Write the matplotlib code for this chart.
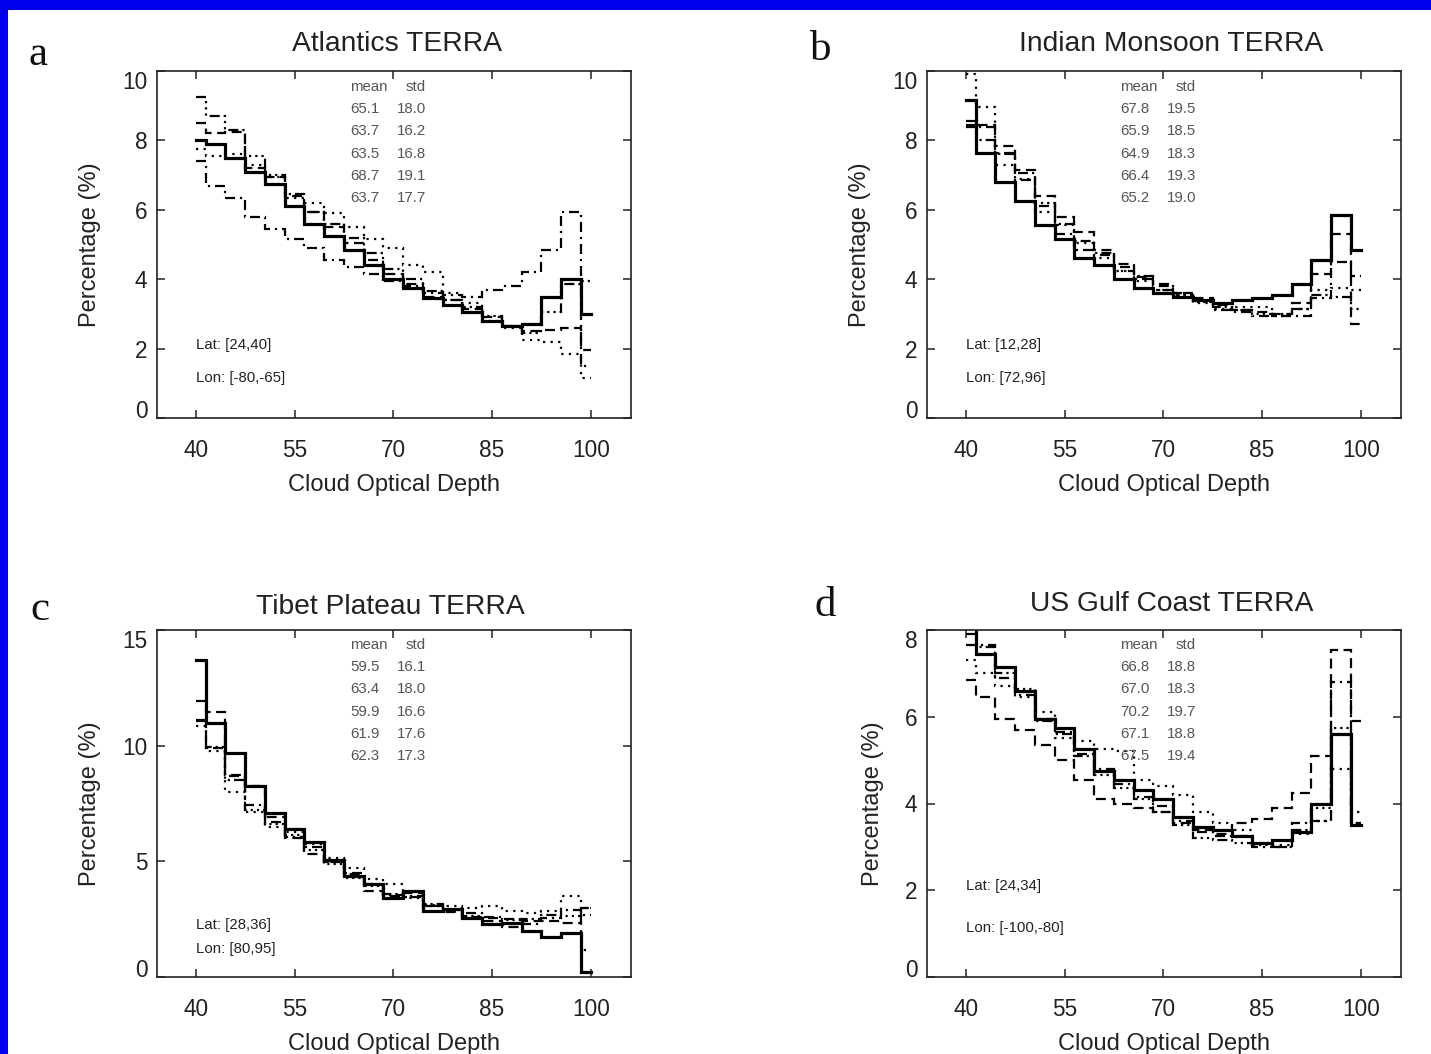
import numpy as np
import matplotlib
matplotlib.use("Agg")
import matplotlib.pyplot as plt
from matplotlib.patches import Rectangle

plt.rcParams['font.family'] = ['Liberation Sans', 'DejaVu Sans']

# Cloud optical depth bin centres (x axis)
cod = [40, 43, 46, 49, 52, 55, 58, 61, 64, 67, 70, 73, 76, 79, 82, 85, 88, 91, 94, 97, 100]
xticks = [40, 55, 70, 85, 100]

# ---- a: Atlantics ----
atl_solid = [8.0, 7.9, 7.5, 7.1, 6.75, 6.1, 5.6, 5.25, 4.85, 4.4, 4.0, 3.75, 3.45, 3.25, 3.05, 2.8, 2.65, 2.7, 3.5, 4.0, 3.0]
atl_dot = [7.75, 7.55, 7.6, 7.3, 6.95, 6.35, 6.2, 5.9, 5.5, 5.15, 4.9, 4.4, 4.2, 3.6, 3.3, 2.8, 2.6, 2.25, 2.2, 1.85, 1.15]
atl_dash = [8.5, 8.2, 8.25, 7.2, 6.95, 6.4, 5.95, 5.5, 5.05, 4.55, 4.15, 3.85, 3.5, 3.4, 3.15, 2.9, 2.65, 2.5, 2.55, 2.6, 1.95]
atl_dashdot = [7.4, 6.7, 6.35, 5.8, 5.45, 5.15, 4.9, 4.55, 4.35, 4.15, 3.95, 3.8, 3.6, 3.55, 3.5, 3.7, 3.8, 4.2, 4.85, 5.95, 1.5]
atl_dash3dot = [9.25, 8.7, 8.3, 7.55, 7.0, 6.45, 5.95, 5.6, 5.2, 4.75, 4.3, 4.0, 3.65, 3.4, 3.2, 2.95, 2.65, 2.45, 3.05, 3.85, 3.95]
atl_mean = ["65.1", "63.7", "63.5", "68.7", "63.7"]
atl_std = ["18.0", "16.2", "16.8", "19.1", "17.7"]

# ---- b: Indian Monsoon ----
ind_solid = [9.15, 7.65, 6.8, 6.25, 5.55, 5.15, 4.6, 4.4, 4.0, 3.75, 3.6, 3.5, 3.4, 3.3, 3.4, 3.45, 3.55, 3.85, 4.55, 5.85, 4.85]
ind_dot = [9.9, 8.95, 7.3, 6.9, 5.95, 5.55, 5.05, 4.6, 4.25, 3.95, 3.7, 3.55, 3.3, 3.15, 3.2, 3.2, 3.0, 3.15, 3.7, 3.75, 3.7]
ind_dash = [8.55, 8.45, 7.85, 7.15, 6.4, 5.8, 5.35, 4.85, 4.45, 4.05, 3.8, 3.6, 3.45, 3.25, 3.1, 3.05, 3.0, 3.3, 4.15, 5.3, 2.7]
ind_dashdot = [8.45, 8.4, 7.65, 6.85, 6.1, 5.3, 4.85, 4.7, 4.25, 4.0, 3.85, 3.6, 3.4, 3.1, 3.05, 2.95, 2.95, 2.95, 3.45, 4.5, 4.1]
ind_dash3dot = [8.4, 8.0, 7.6, 7.05, 6.2, 5.6, 5.1, 4.75, 4.35, 4.1, 3.7, 3.55, 3.35, 3.2, 3.1, 3.0, 2.95, 3.15, 3.55, 3.5, 3.15]
ind_mean = ["67.8", "65.9", "64.9", "66.4", "65.2"]
ind_std = ["19.5", "18.5", "18.3", "19.3", "19.0"]

# ---- c: Tibet Plateau ----
tib_solid = [13.7, 11.0, 9.7, 8.25, 7.1, 6.4, 5.85, 5.05, 4.35, 4.0, 3.4, 3.7, 2.85, 2.95, 2.55, 2.3, 2.35, 2.0, 1.75, 1.9, 0.2]
tib_dot = [10.85, 9.75, 8.0, 7.15, 6.5, 6.25, 5.75, 5.15, 4.7, 4.25, 4.0, 3.4, 3.1, 3.05, 3.0, 3.05, 2.85, 2.75, 2.85, 3.5, 1.15]
tib_dash = [11.95, 11.45, 8.75, 8.25, 6.9, 6.0, 5.3, 4.95, 4.45, 3.7, 3.5, 3.65, 3.05, 2.8, 2.6, 2.4, 2.15, 2.4, 2.4, 2.35, 3.0]
tib_dashdot = [11.05, 9.9, 8.7, 7.45, 6.7, 6.05, 5.6, 4.95, 4.5, 4.0, 3.55, 3.5, 3.05, 2.85, 2.75, 2.6, 2.5, 2.3, 2.55, 2.9, 2.7]
tib_dash3dot = [11.1, 9.95, 8.5, 7.2, 6.6, 6.15, 5.5, 4.9, 4.3, 3.95, 3.6, 3.45, 3.15, 2.9, 2.65, 2.55, 2.45, 2.5, 2.7, 2.65, 3.0]
tib_mean = ["59.5", "63.4", "59.9", "61.9", "62.3"]
tib_std = ["16.1", "18.0", "16.6", "17.6", "17.3"]

# ---- d: US Gulf Coast ----
gulf_solid = [8.1, 7.45, 7.15, 6.6, 5.95, 5.75, 5.25, 4.75, 4.55, 4.3, 4.1, 3.7, 3.45, 3.4, 3.25, 3.1, 3.15, 3.35, 4.0, 5.6, 3.5]
gulf_dot = [7.3, 7.0, 6.7, 6.45, 6.1, 5.5, 5.45, 5.25, 5.2, 4.55, 4.4, 4.2, 3.8, 3.55, 3.4, 3.1, 3.05, 3.3, 3.6, 4.8, 3.8]
gulf_dash = [6.85, 6.45, 5.95, 5.7, 5.35, 5.0, 4.55, 4.1, 4.0, 3.9, 3.8, 3.55, 3.4, 3.3, 3.55, 3.65, 3.9, 4.25, 5.1, 7.55, 3.5]
gulf_dashdot = [7.65, 7.65, 6.9, 6.5, 5.95, 5.65, 5.15, 4.8, 4.45, 4.15, 3.95, 3.6, 3.35, 3.25, 3.25, 3.0, 3.0, 3.55, 3.6, 6.8, 5.9]
gulf_dash3dot = [7.9, 7.6, 7.0, 6.65, 5.9, 5.6, 5.1, 4.65, 4.35, 4.1, 3.8, 3.5, 3.2, 3.15, 3.1, 3.05, 3.0, 3.4, 3.9, 5.75, 3.55]
gulf_mean = ["66.8", "67.0", "70.2", "67.1", "67.5"]
gulf_std = ["18.8", "18.3", "19.7", "18.8", "19.4"]

W, H = 1431, 1054
fig = plt.figure(figsize=(W / 100, H / 100), dpi=100)
fig.patch.set_facecolor('white')

# blue frame strips (left and top)
fig.patches.append(Rectangle((0, 0), 8 / W, 1, transform=fig.transFigure,
                             facecolor='#0000EE', edgecolor='none', zorder=0))
fig.patches.append(Rectangle((0, 1 - 10 / H), 1, 10 / H, transform=fig.transFigure,
                             facecolor='#0000EE', edgecolor='none', zorder=0))

line_styles = [
    dict(linestyle='-', linewidth=2.3),
    dict(linestyle=(0, (1, 2.4)), linewidth=1.6),
    dict(linestyle=(0, (4.5, 2.5)), linewidth=1.6),
    dict(linestyle=(0, (4.5, 2.2, 1, 2.2)), linewidth=1.6),
    dict(linestyle=(0, (4.5, 1.8, 1, 1.8, 1, 1.8, 1, 1.8)), linewidth=1.6),
]

TXT = '#222222'
GREY = '#555555'


def px(x, y):
    return x / W, 1 - y / H


panels = [
    dict(letter='a', title='Atlantics TERRA',
         series=[atl_solid, atl_dot, atl_dash, atl_dashdot, atl_dash3dot],
         mean=atl_mean, std=atl_std, lat='Lat: [24,40]', lon='Lon: [-80,-65]',
         ylim=(0, 10), yticks=[0, 2, 4, 6, 8, 10],
         box=(157, 71), letter_xy=(38, 55), title_xy=(397, 44),
         ylab_x=90, latlon_y=(0.210, 0.115), stats_y=0.954),
    dict(letter='b', title='Indian Monsoon TERRA',
         series=[ind_solid, ind_dot, ind_dash, ind_dashdot, ind_dash3dot],
         mean=ind_mean, std=ind_std, lat='Lat: [12,28]', lon='Lon: [72,96]',
         ylim=(0, 10), yticks=[0, 2, 4, 6, 8, 10],
         box=(927, 71), letter_xy=(821, 50), title_xy=(1171, 44),
         ylab_x=860, latlon_y=(0.210, 0.115), stats_y=0.954),
    dict(letter='c', title='Tibet Plateau TERRA',
         series=[tib_solid, tib_dot, tib_dash, tib_dashdot, tib_dash3dot],
         mean=tib_mean, std=tib_std, lat='Lat: [28,36]', lon='Lon: [80,95]',
         ylim=(0, 15), yticks=[0, 5, 10, 15],
         box=(157, 630), letter_xy=(40, 610), title_xy=(390, 607),
         ylab_x=90, latlon_y=(0.150, 0.081), stats_y=0.957),
    dict(letter='d', title='US Gulf Coast TERRA',
         series=[gulf_solid, gulf_dot, gulf_dash, gulf_dashdot, gulf_dash3dot],
         mean=gulf_mean, std=gulf_std, lat='Lat: [24,34]', lon='Lon: [-100,-80]',
         ylim=(0, 8), yticks=[0, 2, 4, 6, 8],
         box=(927, 630), letter_xy=(825, 606), title_xy=(1172, 604),
         ylab_x=873, latlon_y=(0.262, 0.141), stats_y=0.957),
]

AW, AH = 474, 347

for p in panels:
    x0, y0 = p['box']
    ax = fig.add_axes([x0 / W, 1 - (y0 + AH) / H, AW / W, AH / H])
    for vals, st in zip(p['series'], line_styles):
        ax.step(cod, vals, where='mid', color='black', solid_joinstyle='miter',
                dash_joinstyle='miter', **st)
    ax.set_xlim(34.1, 106.1)
    ax.set_ylim(*p['ylim'])
    ax.set_xticks(xticks)
    ax.set_yticks(p['yticks'])
    ax.tick_params(direction='in', length=6, width=1.1, top=True, right=True,
                   labelsize=16.3, labelcolor=TXT, color='#222222')
    ax.tick_params(axis='x', pad=15)
    ax.tick_params(axis='y', pad=7)
    for s in ax.spines.values():
        s.set_linewidth(1.2)
        s.set_color('#222222')
    yt = ax.yaxis.get_major_ticks()
    yt[0].label1.set_va('baseline')
    yt[-1].label1.set_va('top')

    ax.text(0.5, -0.193, 'Cloud Optical Depth', transform=ax.transAxes,
            ha='center', va='center', fontsize=17, color=TXT)
    fig.text(*px(p['ylab_x'], y0 + AH / 2), 'Percentage (%)', rotation=90,
             ha='center', va='center', fontsize=17, color=TXT)
    fig.text(*px(*p['title_xy']), p['title'], ha='center', va='center',
             fontsize=20.3, color=TXT)
    fig.text(*px(*p['letter_xy']), p['letter'], ha='center', va='center',
             fontsize=31, family='Liberation Serif', color='#111111')

    # statistics table
    sy = p['stats_y']
    ax.text(0.408, sy, 'mean', transform=ax.transAxes, ha='left', va='center',
            fontsize=10.8, color=GREY)
    ax.text(0.525, sy, 'std', transform=ax.transAxes, ha='left', va='center',
            fontsize=10.8, color=GREY)
    for i, (m, s) in enumerate(zip(p['mean'], p['std'])):
        yy = sy - 0.064 * (i + 1)
        ax.text(0.408, yy, m, transform=ax.transAxes, ha='left', va='center',
                fontsize=10.8, color=GREY)
        ax.text(0.507, yy, s, transform=ax.transAxes, ha='left', va='center',
                fontsize=10.8, color=GREY)

    ly1, ly2 = p['latlon_y']
    ax.text(0.083, ly1, p['lat'], transform=ax.transAxes, ha='left', va='center',
            fontsize=10.8, color=TXT)
    ax.text(0.083, ly2, p['lon'], transform=ax.transAxes, ha='left', va='center',
            fontsize=10.8, color=TXT)

fig.savefig('out.png', dpi=100, facecolor='white')
